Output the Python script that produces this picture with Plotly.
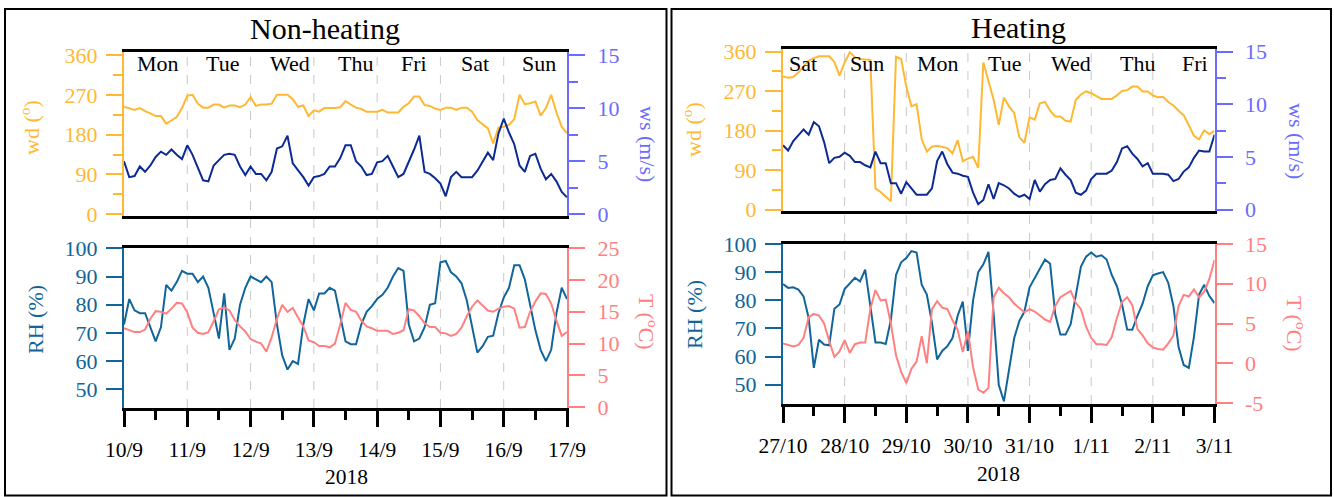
import plotly.graph_objects as go

W, H = 1334, 497
FONT = "Liberation Serif"

# ---------------- data (2-hourly samples over one week) ----------------
hours = list(range(0, 169, 2))

nh_date_labels = ["10/9", "11/9", "12/9", "13/9", "14/9", "15/9", "16/9", "17/9"]
h_date_labels = ["27/10", "28/10", "29/10", "30/10", "31/10", "1/11", "2/11", "3/11"]
nh_weekdays = ["Mon", "Tue", "Wed", "Thu", "Fri", "Sat", "Sun"]
h_weekdays = ["Sat", "Sun", "Mon", "Tue", "Wed", "Thu", "Fri"]
year_label = "2018"

# Non-heating period
nh_wd = [243, 240, 236, 240, 233, 228, 222, 222, 205, 212, 220,
         240, 268, 270, 250, 241, 241, 248, 248, 241, 246,
         246, 242, 248, 265, 245, 248, 248, 250, 270, 270,
         270, 260, 243, 246, 222, 235, 232, 240, 240, 240,
         242, 256,
         248, 241, 238, 232, 232, 232, 236, 230,
         230, 230, 243, 251, 266, 266, 247, 245, 239, 236,
         241, 241, 236, 241, 241, 232, 213, 203, 194, 160,
         196, 198, 202, 215, 270, 249, 251, 255, 223, 240,
         270, 230, 198, 183]
nh_ws = [5.0, 3.5, 3.6, 4.5, 4.0, 4.6, 5.4, 5.9, 5.6, 6.1, 5.6,
         5.2, 6.5, 5.6, 4.4, 3.2, 3.1, 4.6, 5.1, 5.6, 5.7,
         5.6, 4.5, 3.7, 4.5, 3.8, 3.8, 3.2, 4.0, 6.2, 6.4,
         7.4, 4.8, 4.2, 3.5, 2.7, 3.5, 3.6, 3.8, 4.5, 4.5,
         5.3, 6.5,
         6.5, 5.0, 4.5, 3.7, 3.8, 4.9, 5.0, 5.5,
         4.5, 3.5, 3.8, 4.9, 6.1, 7.4, 4.0, 3.8, 3.4, 2.9,
         1.7, 3.5, 4.0, 3.5, 3.5, 3.5, 4.1, 5.0, 5.8, 5.1,
         7.6, 9.0, 7.7, 6.6, 4.6, 4.0, 5.5, 5.7, 4.3, 3.3,
         3.8, 3.1, 2.1, 1.6]
nh_rh = [73, 82, 78, 77, 77, 72, 67, 72, 87, 85, 88,
         92, 91, 91, 88, 90, 86, 77, 68, 84, 64,
         68, 80, 86, 90, 89, 88, 90, 88, 73, 62,
         57, 60, 59, 73, 82, 78, 84, 84, 86, 85,
         76, 67,
         66, 66, 73, 77.5, 79.5, 82, 83.5, 86,
         90, 93, 92, 73, 67, 68, 72, 80, 80.5, 95,
         95.5, 91.5, 90, 87.6, 81.5, 72, 63, 65.3, 68.6, 69,
         77, 82.5, 86, 94, 94, 89, 80, 71, 64, 60,
         64, 77, 86, 82]
nh_t = [12.4, 12.1, 11.8, 11.8, 12.2, 13.9, 15.1, 15.0, 14.7, 15.5, 16.4,
        16.3, 14.9, 12.5, 11.7, 11.5, 11.8, 13.5, 15.4, 15.7, 15.2,
        13.7, 12.7, 11.9, 10.7, 10.3, 10.0, 8.7, 11.0, 13.9, 16.1,
        15.0, 15.6, 14.1, 12.7, 10.5, 10.2, 9.6, 9.6, 9.4, 10.0,
        13.0, 16.4,
        15.3, 15.0, 13.6, 12.7, 12.4, 12.0, 12.0, 12.0,
        11.5, 11.7, 12.1, 15.4, 15.2, 14.3, 13.2, 12.6, 12.6, 11.7,
        11.6, 11.2, 11.5, 12.5, 14.3, 15.8, 16.8, 16.0, 15.2, 15.0,
        15.5, 15.8, 15.9, 15.5, 12.5, 12.6, 15.0, 16.6, 17.9, 17.8,
        16.3, 13.6, 11.2, 11.8]

# Heating period
h_wd = [303, 300, 302, 312, 326, 339, 345, 349, 349, 349, 336,
        305, 335, 358, 347, 343, 342, 341, 48, 40, 29,
        19, 348, 343, 280, 235, 240, 160, 132, 143, 145,
        143, 140, 128, 158, 110, 116, 120, 95, 335, 290,
        250, 193,
        255, 235, 220, 165, 152, 210, 205, 242,
        245, 225, 212, 212, 202, 200, 250, 262, 269, 265,
        258, 252, 252, 252, 260, 270, 272, 280, 280, 269,
        269, 260, 256, 257, 245, 237, 225, 215, 192, 168,
        160, 180, 172, 179]
h_ws = [6.1, 5.6, 6.5, 7.0, 7.6, 7.1, 8.3, 7.9, 6.4, 4.4, 4.9,
        5.0, 5.4, 5.1, 4.5, 4.5, 4.2, 4.0, 5.5, 4.4, 4.4,
        2.5, 2.5, 1.5, 2.6, 2.0, 1.4, 1.4, 1.4, 2.0, 4.6,
        5.5, 4.3, 3.5, 3.4, 3.2, 3.1, 1.6, 0.5, 0.9, 2.4,
        1.0, 2.5,
        2.3, 2.0, 1.5, 1.2, 1.4, 1.0, 2.8, 1.7,
        2.4, 2.8, 2.9, 3.9, 3.3, 2.8, 1.6, 1.4, 1.8, 2.9,
        3.4, 3.4, 3.4, 3.7, 4.5, 5.8, 6.0, 5.3, 4.8, 4.1,
        4.4, 3.4, 3.4, 3.4, 3.3, 2.7, 2.9, 3.6, 4.0, 4.9,
        5.6, 5.5, 5.5, 7.1]
h_rh = [85.8, 84.4, 84.6, 83.8, 81.4, 73.7, 56, 66, 64.3, 64, 77,
        78.5, 84, 86, 88, 86.7, 90.9, 78, 65, 65, 64.5,
        73, 89, 93.5, 95, 97.5, 97, 85.5, 82, 72, 59,
        62, 63.7, 66.6, 74.5, 79.5, 62, 80, 90, 92.8, 97.2,
        75.3, 50,
        44.1, 55, 66.5, 72.6, 76, 84.6, 88, 90.9,
        94.5, 93, 75, 67.8, 67.8, 71.5, 82, 92, 95.5, 97,
        95.5, 96, 94.5, 89, 85, 78.5, 69.6, 69.5, 74.5, 78.8,
        85, 88.9, 89.5, 90, 86.2, 78, 63.5, 57, 56, 67,
        82, 85.5, 81.5, 79]
h_t = [2.5, 2.3, 2.1, 2.3, 3.2, 5.8, 6.2, 6.0, 5.0, 2.8, 0.8,
       1.5, 2.9, 1.3, 2.4, 2.6, 2.6, 6.8, 9.2, 7.9, 8.0,
       5.0, 1.0, -1.1, -2.5, -0.7, 0.2, 3.4, 0.0, 6.8, 7.8,
       7.0, 6.8, 5.4, 4.2, 1.4, 4.0, -0.5, -3.3, -3.7, -3.1,
       8.3, 9.5,
       8.8, 8.3, 7.5, 7.0, 6.4, 6.8, 6.5, 6.0,
       5.5, 5.2, 7.2, 8.3, 8.7, 9.1, 7.6, 6.8, 4.6, 3.2,
       2.4, 2.4, 2.3, 3.3, 5.7, 7.7, 8.3, 7.3, 4.3, 3.5,
       2.5, 2.0, 1.8, 1.7, 2.5, 3.5, 7.2, 8.6, 8.4, 9.3,
       8.3, 9.0, 10.6, 13.0]

# ---------------- styling ----------------
C_WD = "#FFB833"
C_WS = "#0B2A93"
C_WS_AX = "#6B6BFF"
C_RH = "#11659A"
C_T = "#FF8080"


def PX(x):
    return x / W


def PY(y):
    return 1 - y / H


def rng(v0, p0, v1, p1, top, bot):
    s = (v1 - v0) / (p1 - p0)
    return [v0 + (bot - p0) * s, v0 + (top - p0) * s]


panels = [
    dict(title="Non-heating", title_x=325, title_y=28,
         xl=124, xr=567,
         top=(51.7, 215.7), wd_map=(0, 214.3, 360, 55), ws_map=(0, 214.3, 15, 55),
         bot=(248.3, 408), rh_map=(100, 248.3, 50, 389.3), t_map=(25, 248.3, 0, 407),
         t_ticks=[0, 5, 10, 15, 20, 25],
         dates=nh_date_labels, days=nh_weekdays,
         day_pos=[0.53, 1.56, 2.62, 3.66, 4.58, 5.55, 6.56],
         wd=nh_wd, ws=nh_ws, rh=nh_rh, t=nh_t,
         wd_title_x=30, ws_title_x=648, rh_title_x=35, t_title_x=648,
         wd_title_y=128, ws_title_y=144, rh_title_y=320, t_title_y=322,
         year_x=346, year_y=477, box=(5, 9, 666.5, 495.5)),
    dict(title="Heating", title_x=1018, title_y=27,
         xl=783, xr=1214.5,
         top=(49, 211), wd_map=(0, 209.5, 360, 51.5), ws_map=(0, 209.5, 15, 51.5),
         bot=(244, 404), rh_map=(100, 244, 50, 384.7), t_map=(15, 244, -5, 403),
         t_ticks=[-5, 0, 5, 10, 15],
         dates=h_date_labels, days=h_weekdays,
         day_pos=[0.33, 1.37, 2.52, 3.59, 4.68, 5.75, 6.69],
         wd=h_wd, ws=h_ws, rh=h_rh, t=h_t,
         wd_title_x=692, ws_title_x=1296, rh_title_x=694, t_title_x=1296,
         wd_title_y=130, ws_title_y=141, rh_title_y=315, t_title_y=324,
         year_x=998.5, year_y=474, box=(671.5, 9, 1331, 495.5)),
]

fig = go.Figure()
layout = dict(template="none", width=W, height=H, margin=dict(l=0, r=0, t=0, b=0, pad=0),
              autosize=False,
              paper_bgcolor="white", plot_bgcolor="rgba(0,0,0,0)",
              showlegend=False, font=dict(family=FONT, color="black"))
annotations = []
shapes = []

TICKFONT = 22

for i, p in enumerate(panels):
    xa_top = 2 * i + 1
    xa_bot = 2 * i + 2
    ya = [4 * i + 1, 4 * i + 2, 4 * i + 3, 4 * i + 4]

    def nm(prefix, n):
        return prefix if n == 1 else f"{prefix}{n}"

    xt, xb = nm("x", xa_top), nm("x", xa_bot)
    y_wd, y_ws, y_rh, y_t = [nm("y", n) for n in ya]

    fig.add_trace(go.Scatter(x=hours, y=p["wd"], xaxis=xt, yaxis=y_wd, mode="lines",
                             line=dict(color=C_WD, width=2), hoverinfo="skip"))
    fig.add_trace(go.Scatter(x=hours, y=p["ws"], xaxis=xt, yaxis=y_ws, mode="lines",
                             line=dict(color=C_WS, width=2), hoverinfo="skip"))
    fig.add_trace(go.Scatter(x=hours, y=p["t"], xaxis=xb, yaxis=y_t, mode="lines",
                             line=dict(color=C_T, width=2), hoverinfo="skip"))
    fig.add_trace(go.Scatter(x=hours, y=p["rh"], xaxis=xb, yaxis=y_rh, mode="lines",
                             line=dict(color=C_RH, width=2), hoverinfo="skip"))

    xdom = [PX(p["xl"]), PX(p["xr"])]
    tdom = [PY(p["top"][1]), PY(p["top"][0])]
    bdom = [PY(p["bot"][1]), PY(p["bot"][0])]

    layout[nm("xaxis", xa_top)] = dict(
        domain=xdom, range=[0, 168], anchor=y_wd, showline=True, linecolor="black",
        linewidth=3, mirror=True, showticklabels=False, ticks="", showgrid=False,
        zeroline=False, fixedrange=True, automargin=False)
    layout[nm("xaxis", xa_bot)] = dict(
        domain=xdom, range=[0, 168], anchor=y_rh, showline=True, linecolor="black",
        linewidth=3, mirror=True, ticks="outside", ticklen=16, tickwidth=2.5,
        tickcolor="black", tickvals=[24 * k for k in range(8)], ticktext=p["dates"],
        tickfont=dict(family=FONT, size=21.5, color="black"), ticklabelstandoff=4,
        minor=dict(dtick=12, tick0=0, ticks="outside", ticklen=9, tickwidth=2.5,
                   tickcolor="black"),
        showgrid=False, zeroline=False, fixedrange=True, automargin=False)

    def yax(dom, r, anchor, side, color, vals, minor=None, overlay=None, standoff=4):
        d = dict(domain=dom, range=r, anchor=anchor, side=side, showline=True,
                 linecolor=color, linewidth=2, ticks="outside", ticklen=16,
                 tickwidth=2, tickcolor=color, tickvals=vals,
                 ticktext=[str(v) for v in vals],
                 tickfont=dict(family=FONT, size=TICKFONT, color=color),
                 ticklabelstandoff=standoff, showgrid=False, zeroline=False,
                 fixedrange=True, automargin=False)
        if minor is not None:
            d["minor"] = dict(dtick=minor, tick0=0, ticks="outside", ticklen=9,
                              tickwidth=2, tickcolor=color)
        if overlay:
            d["overlaying"] = overlay
        return d

    top_px, bot_px = p["top"]
    layout[nm("yaxis", ya[0])] = yax(tdom, rng(*p["wd_map"], top_px, bot_px), xt, "left",
                                     C_WD, [0, 90, 180, 270, 360], minor=45)
    layout[nm("yaxis", ya[1])] = yax(tdom, rng(*p["ws_map"], top_px, bot_px), xt, "right",
                                     C_WS_AX, [0, 5, 10, 15], minor=2.5, overlay=y_wd,
                                     standoff=8)
    btop, bbot = p["bot"]
    layout[nm("yaxis", ya[2])] = yax(bdom, rng(*p["rh_map"], btop, bbot), xb, "left",
                                     C_RH, [50, 60, 70, 80, 90, 100])
    layout[nm("yaxis", ya[3])] = yax(bdom, rng(*p["t_map"], btop, bbot), xb, "right",
                                     C_T, p["t_ticks"], overlay=y_rh, standoff=8)

    # day boundaries (dashed)
    for k in range(1, 7):
        shapes.append(dict(type="line", xref=xt, yref="paper", x0=24 * k, x1=24 * k,
                           y0=PY(bbot), y1=PY(top_px), layer="below",
                           line=dict(color="#C8C8C8", width=1, dash="dash")))
    # panel box
    bx0, by0, bx1, by1 = p["box"]
    shapes.append(dict(type="rect", xref="paper", yref="paper", x0=PX(bx0), x1=PX(bx1),
                       y0=PY(by1), y1=PY(by0), line=dict(color="black", width=2),
                       layer="above"))

    # weekday labels
    for name, pos in zip(p["days"], p["day_pos"]):
        annotations.append(dict(x=pos * 24, y=PY(64), xref=xt, yref="paper", text=name,
                                showarrow=False, xanchor="center", yanchor="middle",
                                font=dict(family=FONT, size=22, color="black")))
    # titles
    annotations.append(dict(x=PX(p["title_x"]), y=PY(p["title_y"]), xref="paper",
                            yref="paper", text=p["title"], showarrow=False,
                            xanchor="center", yanchor="middle",
                            font=dict(family=FONT, size=30, color="black")))
    annotations.append(dict(x=PX(p["year_x"]), y=PY(p["year_y"]), xref="paper",
                            yref="paper", text=year_label, showarrow=False,
                            xanchor="center", yanchor="middle",
                            font=dict(family=FONT, size=21.5, color="black")))
    for txt, xx, yy, col, ang in [
        ("wd (<sup>o</sup>)", p["wd_title_x"], p["wd_title_y"], C_WD, -90),
        ("ws (m/s)", p["ws_title_x"], p["ws_title_y"], C_WS_AX, 90),
        ("RH (%)", p["rh_title_x"], p["rh_title_y"], C_RH, -90),
        ("T (<sup>o</sup>C)", p["t_title_x"], p["t_title_y"], C_T, 90),
    ]:
        annotations.append(dict(x=PX(xx), y=PY(yy), xref="paper", yref="paper", text=txt,
                                showarrow=False, textangle=ang, xanchor="center",
                                yanchor="middle",
                                font=dict(family=FONT, size=22, color=col)))

layout["annotations"] = annotations
layout["shapes"] = shapes
fig.update_layout(**layout)
fig.write_html("out.html")
